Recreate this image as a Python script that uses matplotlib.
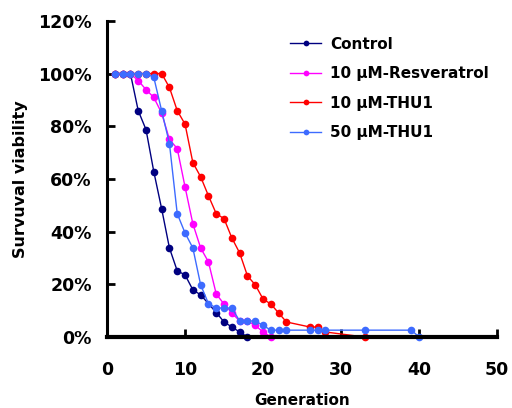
import matplotlib
matplotlib.use("Agg")
import matplotlib.pyplot as plt
from matplotlib.ticker import FuncFormatter

plt.rcParams['font.family'] = ['DejaVu Sans']
plt.rcParams['font.weight'] = 'bold'

# --- data (generation, survival %) ---
control_x = [1, 2, 3, 4, 5, 6, 7, 8, 9, 10, 11, 12, 14, 15, 16, 17, 18]
control_y = [100, 100, 100, 85.9, 78.7, 62.7, 48.7, 33.8, 25.1, 23.6, 17.9, 16.0,
             9.3, 5.7, 3.8, 1.9, 0]

resv_x = list(range(1, 22))
resv_y = [100, 100, 100, 97.3, 93.9, 90.9, 85.0, 75.0, 71.5, 57.0, 43.0, 33.8,
          28.5, 16.3, 12.5, 9.1, 6.1, 6.1, 4.4, 1.9, 0]

thu10_x = list(range(1, 24)) + [26, 27, 28, 33]
thu10_y = [100, 100, 100, 100, 100, 100, 100, 94.7, 85.9, 80.8, 66.2, 60.8,
           53.6, 46.8, 44.9, 37.6, 31.9, 23.2, 19.8, 14.4, 12.5, 9.1, 5.7,
           3.8, 3.8, 1.9, 0]

thu50_x = list(range(1, 24)) + [26, 27, 28, 33, 39, 40]
thu50_y = [100, 100, 100, 100, 100, 98.5, 85.9, 73.4, 46.8, 39.5, 33.8, 19.8,
           12.7, 11.0, 11.0, 11.0, 6.1, 6.1, 6.1, 4.4, 2.6, 2.6, 2.6,
           2.6, 2.6, 2.6, 2.6, 2.6, 0]

series = [
    (control_x, control_y, '#000080', 'Control'),
    (resv_x, resv_y, '#FF00FF', '10 \u03bcM-Resveratrol'),
    (thu10_x, thu10_y, '#FF0000', '10 \u03bcM-THU1'),
    (thu50_x, thu50_y, '#3D6BFF', '50 \u03bcM-THU1'),
]

fig = plt.figure(figsize=(5.12, 4.08), dpi=100)
ax = fig.add_axes([0.209, 0.174, 0.762, 0.775])

for xs, ys, c, lab in series:
    ax.plot(xs, ys, color=c, linewidth=1.0, marker='o', markersize=5.5,
            markeredgewidth=0, label=lab, clip_on=False)

ax.set_xlim(0, 50)
ax.set_ylim(0, 120)
ax.set_xticks(range(0, 51, 10))
ax.set_yticks(range(0, 121, 20))
ax.yaxis.set_major_formatter(FuncFormatter(lambda v, p: f'{int(v)}%'))

for s in ['top', 'right']:
    ax.spines[s].set_visible(False)
ax.spines['left'].set_linewidth(2.2)
ax.spines['bottom'].set_linewidth(3)
ax.tick_params(direction='in', length=6, width=2, labelsize=12.5)
ax.tick_params(axis='x', pad=17)
ax.tick_params(axis='y', pad=11)
for t in ax.get_xticklabels() + ax.get_yticklabels():
    t.set_fontweight('bold')

ax.set_xlabel('Generation', fontsize=11, fontweight='bold', labelpad=10)
ax.set_ylabel('Survuval viability', fontsize=11.5, fontweight='bold', labelpad=7)

leg = ax.legend(loc='upper left', bbox_to_anchor=(0.47, 0.95), frameon=False,
                borderaxespad=0, borderpad=0, handlelength=2.0,
                handletextpad=0.6, labelspacing=0.95, markerscale=0.75,
                prop={'size': 11, 'weight': 'bold'})

fig.savefig('out.png', dpi=100)
